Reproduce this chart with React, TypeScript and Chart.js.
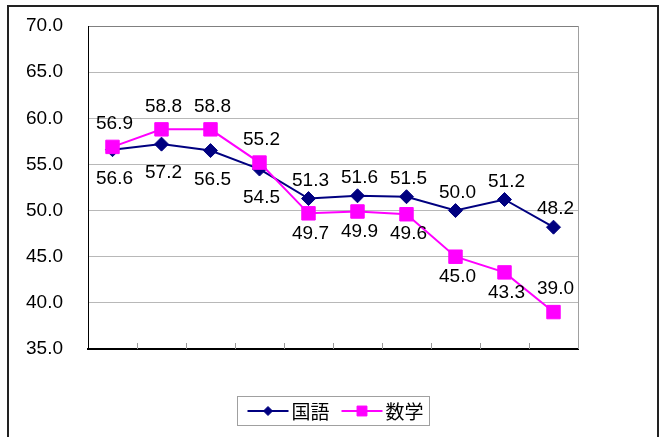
import React, { useEffect, useRef } from "react";
import { Chart, registerables } from "chart.js";
import { drawPoint } from "chart.js/helpers";

Chart.register(...registerables);

const categories = ["1", "2", "3", "4", "5", "6", "7", "8", "9", "10"];
const kokugoName = "国語";
const sugakuName = "数学";
const kokugoValues = [56.6, 57.2, 56.5, 54.5, 51.3, 51.6, 51.5, 50.0, 51.2, 48.2];
const sugakuValues = [56.9, 58.8, 58.8, 55.2, 49.7, 49.9, 49.6, 45.0, 43.3, 39.0];
const kokugoLabelSide = ["below", "below", "below", "below", "above", "above", "above", "above", "above", "above"];
const sugakuLabelSide = ["above", "above", "above", "above", "below", "below", "below", "below", "below", "above"];
const yMin = 35;
const yMax = 70;
const yStep = 5;

const NAVY = "#000080";
const MAGENTA = "#FF00FF";
const FONT = "'Liberation Sans', Arial, sans-serif";
const CJK = "'Noto Sans CJK JP', 'Liberation Sans', sans-serif";
const FS = 19;
// label distance from point centre: [above, below] per series
const LABEL_GAP = [
  [18, 29],
  [23, 20],
];

const decorPlugin = {
  id: "decor",
  beforeDatasetsDraw(chart: any) {
    const { ctx, chartArea } = chart;
    const x = chart.scales.x;
    ctx.save();
    ctx.strokeStyle = "#a0a0a0";
    ctx.lineWidth = 1;
    ctx.beginPath();
    ctx.moveTo(chartArea.right + 0.5, chartArea.top);
    ctx.lineTo(chartArea.right + 0.5, chartArea.bottom);
    ctx.stroke();
    ctx.strokeStyle = "#999999";
    const n = chart.data.labels.length;
    const w = (chartArea.right - chartArea.left) / n;
    for (let i = 1; i < n; i++) {
      const px = Math.round(x.getPixelForValue(i) - w / 2) + 0.5;
      ctx.beginPath();
      ctx.moveTo(px, chartArea.bottom);
      ctx.lineTo(px, chartArea.bottom - 6);
      ctx.stroke();
    }
    ctx.restore();
  },
  afterDatasetsDraw(chart: any) {
    const { ctx } = chart;
    ctx.save();
    ctx.font = `${FS}px ${FONT}`;
    ctx.fillStyle = "#000";
    ctx.textAlign = "center";
    ctx.textBaseline = "middle";
    const sides = [kokugoLabelSide, sugakuLabelSide];
    chart.data.datasets.forEach((ds: any, di: number) => {
      const meta = chart.getDatasetMeta(di);
      meta.data.forEach((pt: any, i: number) => {
        const side = sides[di][i];
        const dy = side === "above" ? -LABEL_GAP[di][0] : LABEL_GAP[di][1];
        ctx.fillText(Number(ds.data[i]).toFixed(1), pt.x + 2, pt.y + dy);
      });
    });

    const cx = (chart.chartArea.left + chart.chartArea.right) / 2;
    ctx.font = `${FS}px ${CJK}`;
    const tw1 = ctx.measureText(kokugoName).width;
    const tw2 = ctx.measureText(sugakuName).width;
    const total = 10 + 41 + 4 + tw1 + 11 + 41 + 4 + tw2 + 5;
    const bx = Math.round(cx - total / 2) + 0.5;
    const by = 396.5;
    const bh = 29;
    ctx.strokeStyle = "#a0a0a0";
    ctx.lineWidth = 1;
    ctx.strokeRect(bx, by, Math.round(total), bh);
    const my = by + bh / 2;
    let px = bx + 10;
    const items = [
      { name: kokugoName, color: NAVY, style: "rectRot", r: 4.5, tw: tw1 },
      { name: sugakuName, color: MAGENTA, style: "rect", r: 7, tw: tw2 },
    ];
    items.forEach((it) => {
      ctx.strokeStyle = it.color;
      ctx.lineWidth = 2;
      ctx.beginPath();
      ctx.moveTo(px, my);
      ctx.lineTo(px + 41, my);
      ctx.stroke();
      ctx.fillStyle = it.color;
      ctx.lineWidth = 1;
      drawPoint(ctx, { pointStyle: it.style, radius: it.r, borderWidth: 1, rotation: 0 } as any, px + 20.5, my);
      ctx.fillStyle = "#000";
      ctx.textAlign = "left";
      ctx.fillText(it.name, px + 44, my + 1);
      px += 41 + 4 + it.tw + 11;
    });
    ctx.restore();
  },
};

export default function App() {
  const ref = useRef<HTMLCanvasElement>(null);
  useEffect(() => {
    if (!ref.current) return;
    const chart = new Chart(ref.current, {
      type: "line",
      data: {
        labels: categories,
        datasets: [
          {
            label: kokugoName,
            data: kokugoValues,
            borderColor: NAVY,
            backgroundColor: NAVY,
            borderWidth: 2,
            pointStyle: "rectRot",
            pointRadius: 7,
            pointBorderWidth: 1,
            pointBorderColor: NAVY,
            pointBackgroundColor: NAVY,
            tension: 0,
            order: 1,
          },
          {
            label: sugakuName,
            data: sugakuValues,
            borderColor: MAGENTA,
            backgroundColor: MAGENTA,
            borderWidth: 2,
            pointStyle: "rect",
            pointRadius: 9.5,
            pointBorderWidth: 1,
            pointBorderColor: MAGENTA,
            pointBackgroundColor: MAGENTA,
            tension: 0,
            order: 0,
          },
        ],
      },
      options: {
        animation: false,
        responsive: false,
        maintainAspectRatio: false,
        layout: { padding: { left: 0, right: 82, top: 26, bottom: 88 } },
        plugins: {
          legend: { display: false },
          tooltip: { enabled: false },
        },
        scales: {
          x: {
            type: "category",
            offset: true,
            grid: { display: false, drawTicks: false },
            ticks: { display: false },
            border: { display: true, color: "#000", width: 2 },
            afterFit: (s: any) => {
              s.height = 0;
            },
          },
          y: {
            min: yMin,
            max: yMax,
            grid: {
              drawTicks: true,
              tickLength: 25,
              tickColor: "rgba(0,0,0,0)",
              color: (c: any) => (c.tick && c.tick.value === yMax ? "#808080" : "#b8b8b8"),
              lineWidth: 1,
            },
            border: { display: true, color: "#000", width: 1 },
            ticks: {
              stepSize: yStep,
              padding: 0,
              color: "#000",
              font: { family: FONT, size: FS },
              callback: (v: any) => Number(v).toFixed(1),
            },
            afterFit: (s: any) => {
              s.width = 88;
            },
          },
        },
      },
      plugins: [decorPlugin],
    });
    return () => chart.destroy();
  }, []);
  return (
    <div style={{ position: "fixed", left: 0, top: 0, width: 660, height: 437, background: "#fff", overflow: "hidden" }}>
      <canvas ref={ref} width={660} height={437} style={{ position: "absolute", left: 0, top: 0 }} />
      <div
        style={{
          position: "absolute",
          left: 7,
          top: 5,
          width: 652,
          height: 460,
          border: "2px solid #222",
          boxSizing: "border-box",
          pointerEvents: "none",
        }}
      />
    </div>
  );
}
